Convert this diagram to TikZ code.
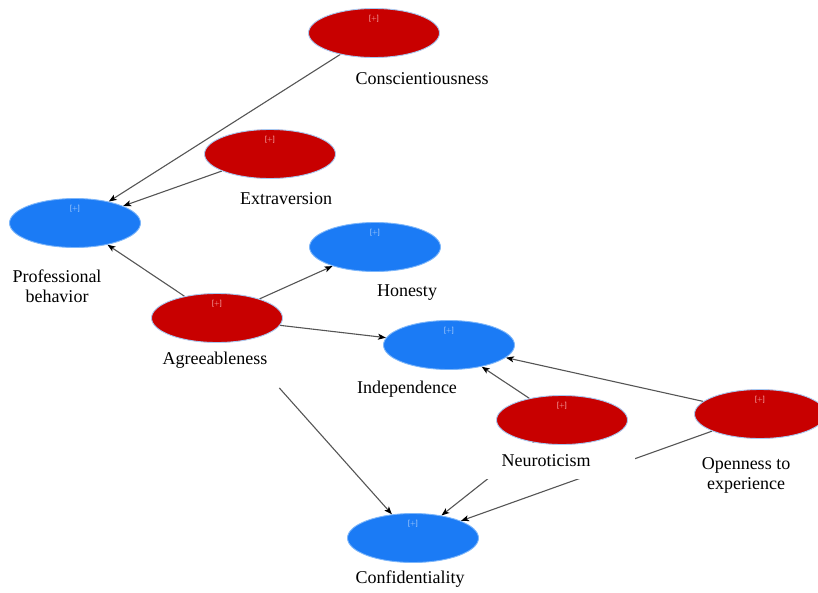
\documentclass[tikz,border=0pt]{standalone}
\usepackage{fontspec}
\setmainfont{Liberation Serif}
\usetikzlibrary{arrows.meta,shapes.geometric}
\pgfdeclarelayer{background}
\pgfsetlayers{background,main}
\definecolor{latred}{HTML}{C80000}
\definecolor{latblue}{HTML}{1B7BF5}
\definecolor{redrim}{HTML}{A9C8F0}
\definecolor{bluerim}{HTML}{7DB6FA}
\definecolor{linegray}{HTML}{555555}
\tikzset{
  lv/.style={ellipse, minimum width=131pt, minimum height=49pt, inner sep=0pt, line width=0.9pt},
  redlv/.style={lv, fill=latred, draw=redrim},
  bluelv/.style={lv, fill=latblue, draw=bluerim},
  plus/.style={font=\fontsize{7}{7}\selectfont\sffamily, text=white!80!red},
  bplus/.style={font=\fontsize{7}{7}\selectfont\sffamily, text=white!75!latblue},
  lbl/.style={font=\fontsize{18}{20}\selectfont, inner sep=0pt, align=center},
  conn/.style={draw=linegray, line width=1.1pt, -{Stealth[length=8pt,width=6pt,inset=2pt,black]}}
}
\begin{document}
\begin{tikzpicture}[x=1pt,y=-1pt]
\useasboundingbox (0,0) rectangle (818,592);
% labels
\node[lbl] (consl) at (422,79) {Conscientiousness};
\node[lbl] (extrl) at (286,199) {Extraversion};
\node[lbl] (profl) at (57,286) {Professional\\behavior};
\node[lbl] (honl) at (407,293) {Honesty};
\node[lbl] (agrl) at (215,360) {Agreeableness};
\node[lbl] (indl) at (407,389) {Independence};
\node[lbl, fill=white, minimum width=150pt, minimum height=36pt] (neul) at (560,461) {Neuroticism\hspace*{28pt}};
\node[lbl] (opel) at (746,475) {Openness to\\experience};
\node[lbl] (conl) at (410,579) {Confidentiality};
% latent variables
\node[redlv] (cons) at (374,33) {};
\node[redlv] (extr) at (270,154) {};
\node[bluelv] (prof) at (75,223) {};
\node[bluelv] (hon) at (375,247) {};
\node[redlv] (agr) at (217,318) {};
\node[bluelv] (ind) at (449,345) {};
\node[redlv] (neu) at (562,420) {};
\node[redlv] (ope) at (760,414) {};
\node[bluelv] (conf) at (413,538) {};
% [+] marks
\foreach \n in {cons,extr,agr,neu,ope}{\node[plus] at ([yshift=14pt]\n.center) {[+]};}
\foreach \n in {prof,hon,ind,conf}{\node[bplus] at ([yshift=14pt]\n.center) {[+]};}
\begin{pgfonlayer}{background}
\draw[conn] (cons) -- (prof);
\draw[conn] (extr) -- (prof);
\draw[conn] (agr) -- (prof);
\draw[conn] (agr) -- (hon);
\draw[conn] (agr) -- (ind);
\draw[conn, shorten <=62pt] (agr) -- (conf);
\draw[conn] (neu) -- (ind);
\draw[conn] (ope) -- (ind);
\draw[conn] (neu) -- (conf);
\draw[conn] (ope) -- (conf);
\end{pgfonlayer}
\end{tikzpicture}
\end{document}
